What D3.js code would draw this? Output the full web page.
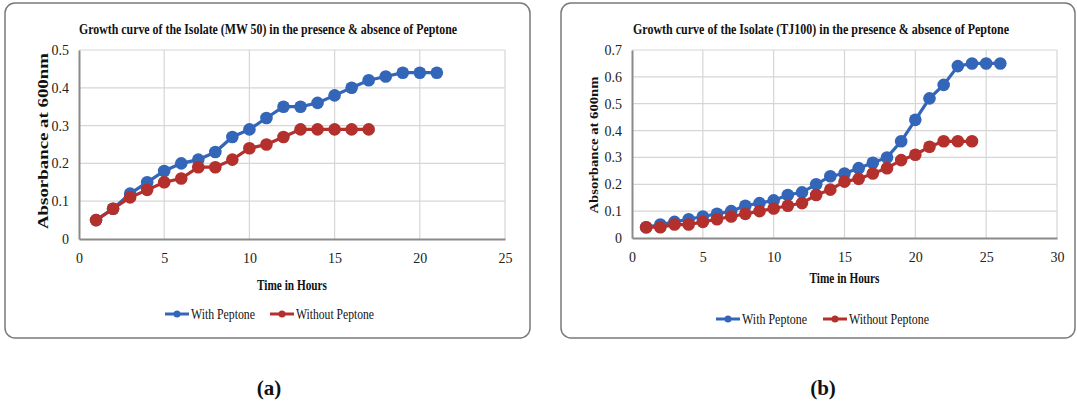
<!DOCTYPE html>
<html>
<head>
<meta charset="utf-8">
<script src="https://cdn.jsdelivr.net/npm/d3@7"></script>
<style>
  body { margin: 0; background: #fff; }
  svg { display: block; font-family: 'Liberation Serif', 'Times New Roman', serif; }
</style>
</head>
<body>
<script>
// Panel (a): isolate MW 50
const hoursA = [1, 2, 3, 4, 5, 6, 7, 8, 9, 10, 11, 12, 13, 14, 15, 16, 17, 18, 19, 20, 21];
const withPeptoneA = [0.05, 0.08, 0.12, 0.15, 0.18, 0.20, 0.21, 0.23, 0.27, 0.29, 0.32, 0.35, 0.35, 0.36, 0.38, 0.40, 0.42, 0.43, 0.44, 0.44, 0.44];
const hoursA2 = [1, 2, 3, 4, 5, 6, 7, 8, 9, 10, 11, 12, 13, 14, 15, 16, 17];
const withoutPeptoneA = [0.05, 0.08, 0.11, 0.13, 0.15, 0.16, 0.19, 0.19, 0.21, 0.24, 0.25, 0.27, 0.29, 0.29, 0.29, 0.29, 0.29];
const xTicksA = [0, 5, 10, 15, 20, 25];
const yTicksA = [0, 0.1, 0.2, 0.3, 0.4, 0.5];

// Panel (b): isolate TJ100
const hoursB = [1, 2, 3, 4, 5, 6, 7, 8, 9, 10, 11, 12, 13, 14, 15, 16, 17, 18, 19, 20, 21, 22, 23, 24, 25, 26];
const withPeptoneB = [0.04, 0.05, 0.06, 0.07, 0.08, 0.09, 0.10, 0.12, 0.13, 0.14, 0.16, 0.17, 0.20, 0.23, 0.24, 0.26, 0.28, 0.30, 0.36, 0.44, 0.52, 0.57, 0.64, 0.65, 0.65, 0.65];
const hoursB2 = [1, 2, 3, 4, 5, 6, 7, 8, 9, 10, 11, 12, 13, 14, 15, 16, 17, 18, 19, 20, 21, 22, 23, 24];
const withoutPeptoneB = [0.04, 0.04, 0.05, 0.05, 0.06, 0.07, 0.08, 0.09, 0.10, 0.11, 0.12, 0.13, 0.16, 0.18, 0.21, 0.22, 0.24, 0.26, 0.29, 0.31, 0.34, 0.36, 0.36, 0.36];
const xTicksB = [0, 5, 10, 15, 20, 25, 30];
const yTicksB = [0, 0.1, 0.2, 0.3, 0.4, 0.5, 0.6, 0.7];

const seriesNames = ['With Peptone', 'Without Peptone'];
const colors = ['#3366b8', '#b3302d'];

const w = 1077;
const h = 402;

const svg = d3
  .select('body')
  .append('svg')
  .attr('width', w)
  .attr('height', h);

function drawPanel(p) {
  const g = svg.append('g');

  // Outer rounded frame
  g.append('rect')
    .attr('x', p.box[0])
    .attr('y', p.box[1])
    .attr('width', p.box[2] - p.box[0])
    .attr('height', p.box[3] - p.box[1])
    .attr('rx', 10)
    .attr('fill', '#fff')
    .attr('stroke', '#7a7a7a')
    .attr('stroke-width', 1.5);

  const xScale = d3.scaleLinear().domain([0, d3.max(p.xTicks)]).range([p.left, p.right]);
  const yScale = d3.scaleLinear().domain([0, d3.max(p.yTicks)]).range([p.bottom, p.top]);

  // Gridlines
  g.append('g')
    .selectAll('line')
    .data(p.xTicks.slice(1))
    .enter()
    .append('line')
    .attr('x1', d => xScale(d))
    .attr('x2', d => xScale(d))
    .attr('y1', p.top)
    .attr('y2', p.bottom)
    .attr('stroke', '#d6d6d6')
    .attr('stroke-width', 1.2);
  g.append('g')
    .selectAll('line')
    .data(p.yTicks.slice(1))
    .enter()
    .append('line')
    .attr('x1', p.left)
    .attr('x2', p.right)
    .attr('y1', d => yScale(d))
    .attr('y2', d => yScale(d))
    .attr('stroke', '#d6d6d6')
    .attr('stroke-width', 1.2);

  // Axes
  const xAxis = d3.axisBottom(xScale).tickValues(p.xTicks).tickSize(0).tickPadding(14).tickFormat(d3.format('d'));
  const yAxis = d3.axisLeft(yScale).tickValues(p.yTicks).tickSize(0).tickPadding(10).tickFormat(d => d === 0 ? '0' : d3.format('.1f')(d));

  const gx = g.append('g')
    .attr('transform', 'translate(0,' + p.bottom + ')')
    .call(xAxis);
  const gy = g.append('g')
    .attr('transform', 'translate(' + p.left + ',0)')
    .call(yAxis);
  [gx, gy].forEach(a => {
    a.select('.domain').attr('stroke', '#8a8a8a').attr('stroke-width', 2);
    a.selectAll('text')
      .attr('font-family', "'Liberation Serif', serif")
      .attr('font-size', 14)
      .attr('fill', '#222');
  });

  // Lines and markers
  const line = d3.line().x(d => xScale(d[0])).y(d => yScale(d[1]));
  p.series.forEach((s, i) => {
    const pts = s.x.map((x, j) => [x, s.y[j]]);
    const sg = g.append('g');
    sg.append('path')
      .datum(pts)
      .attr('d', line)
      .attr('fill', 'none')
      .attr('stroke', colors[i])
      .attr('stroke-width', 3.2);
    sg.selectAll('circle')
      .data(pts)
      .enter()
      .append('circle')
      .attr('cx', d => xScale(d[0]))
      .attr('cy', d => yScale(d[1]))
      .attr('r', 6.3)
      .attr('fill', colors[i]);
  });

  // Title
  g.append('text')
    .attr('x', p.titleX)
    .attr('y', 29)
    .attr('text-anchor', 'middle')
    .attr('dominant-baseline', 'central')
    .attr('font-size', 14)
    .attr('font-weight', 'bold')
    .attr('textLength', p.titleLen)
    .attr('lengthAdjust', 'spacingAndGlyphs')
    .attr('fill', '#111')
    .text(p.title);

  // Axis titles
  g.append('text')
    .attr('x', (p.left + p.right) / 2)
    .attr('y', p.xTitleY)
    .attr('text-anchor', 'middle')
    .attr('dominant-baseline', 'central')
    .attr('font-size', 14)
    .attr('font-weight', 'bold')
    .attr('textLength', 70)
    .attr('lengthAdjust', 'spacingAndGlyphs')
    .attr('fill', '#111')
    .text('Time in Hours');

  g.append('text')
    .attr('transform', 'translate(' + p.yTitleX + ',' + p.yTitleY + ') rotate(-90)')
    .attr('text-anchor', 'middle')
    .attr('dominant-baseline', 'central')
    .attr('font-size', p.yTitleSize)
    .attr('font-weight', 'bold')
    .attr('textLength', p.yTitleLen)
    .attr('lengthAdjust', 'spacingAndGlyphs')
    .attr('fill', '#111')
    .text('Absorbance at 600nm');

  // Legend
  p.legend.forEach((lx, i) => {
    const lg = g.append('g');
    lg.append('line')
      .attr('x1', lx)
      .attr('x2', lx + 24)
      .attr('y1', p.legendY)
      .attr('y2', p.legendY)
      .attr('stroke', colors[i])
      .attr('stroke-width', 3);
    lg.append('circle')
      .attr('cx', lx + 12)
      .attr('cy', p.legendY)
      .attr('r', 3.5)
      .attr('fill', colors[i]);
    lg.append('text')
      .attr('x', lx + 26)
      .attr('y', p.legendY)
      .attr('dominant-baseline', 'central')
      .attr('font-size', 14)
      .attr('textLength', p.legendLen[i])
      .attr('lengthAdjust', 'spacingAndGlyphs')
      .attr('fill', '#111')
      .text(seriesNames[i]);
  });

  // Panel letter
  g.append('text')
    .attr('x', p.letterX)
    .attr('y', 388)
    .attr('text-anchor', 'middle')
    .attr('dominant-baseline', 'central')
    .attr('font-size', 21)
    .attr('font-weight', 'bold')
    .attr('fill', '#111')
    .text(p.letter);
}

drawPanel({
  box: [5, 3, 530, 338],
  left: 79, right: 505, top: 50, bottom: 239,
  xTicks: xTicksA, yTicks: yTicksA,
  series: [
    { x: hoursA, y: withPeptoneA },
    { x: hoursA2, y: withoutPeptoneA }
  ],
  title: 'Growth curve of the Isolate  (MW 50) in the presence & absence of Peptone',
  titleX: 268, titleLen: 378,
  xTitleY: 285,
  yTitleX: 43, yTitleY: 141, yTitleSize: 14, yTitleLen: 176,
  legend: [165, 270], legendY: 314, legendLen: [64, 78],
  letter: '(a)', letterX: 269
});

drawPanel({
  box: [561, 3, 1075, 338],
  left: 632, right: 1057, top: 50, bottom: 238,
  xTicks: xTicksB, yTicks: yTicksB,
  series: [
    { x: hoursB, y: withPeptoneB },
    { x: hoursB2, y: withoutPeptoneB }
  ],
  title: 'Growth  curve of the Isolate  (TJ100) in the presence & absence of Peptone',
  titleX: 821, titleLen: 376,
  xTitleY: 278,
  yTitleX: 594, yTitleY: 145, yTitleSize: 12, yTitleLen: 137,
  legend: [716, 823], legendY: 319, legendLen: [65, 80],
  letter: '(b)', letterX: 823
});
</script>
</body>
</html>
